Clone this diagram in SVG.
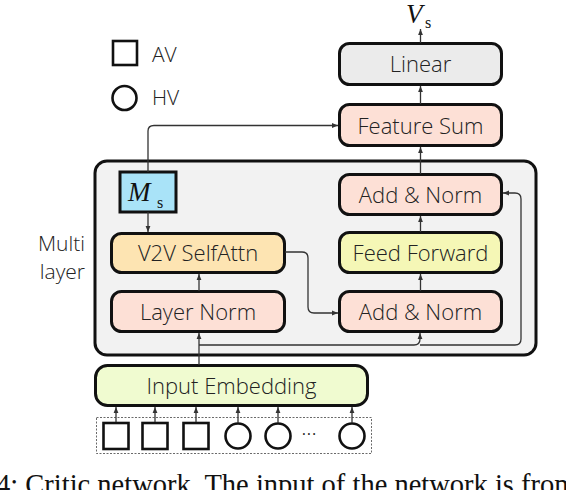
<svg xmlns="http://www.w3.org/2000/svg" width="566" height="490" viewBox="0 0 566 490">
<style>
.box{stroke:#111;stroke-width:3}
.t{font-family:"Open Sans","Noto Sans",sans-serif;font-size:22px;fill:#222;text-anchor:middle;font-weight:300}
.lbl{font-family:"Open Sans","Noto Sans",sans-serif;font-size:21px;fill:#222;font-weight:300}
.math{font-family:"Liberation Serif","DejaVu Serif",serif;fill:#111}
.c{fill:none;stroke:#333;stroke-width:1.3}
.sym{fill:#fff;stroke:#111;stroke-width:2.6}
</style>
<defs>
<marker id="ah" viewBox="0 0 10 10" refX="10" refY="5" markerWidth="6" markerHeight="6" orient="auto" markerUnits="userSpaceOnUse">
<path d="M0,1 L10,5 L0,9 z" fill="#333"/>
</marker>
</defs>
<rect width="566" height="490" fill="#fff"/>

<g id="legend">
<rect x="113" y="41" width="24" height="24" class="sym"/>
<text x="152" y="62" class="lbl">AV</text>
<circle cx="124.5" cy="98" r="12" class="sym"/>
<text x="152" y="105" class="lbl">HV</text>
</g>

<g id="multilayer-label">
<text x="85" y="251" class="lbl" text-anchor="end">Multi</text>
<text x="85" y="279" class="lbl" text-anchor="end">layer</text>
</g>

<g id="container">
<rect x="95" y="161" width="441" height="194" rx="12" fill="#f2f2f2" stroke="#111" stroke-width="3"/>
</g>

<g id="vs">
<text x="406" y="23" class="math" font-size="27" font-style="italic">V</text>
<text x="425" y="28" class="math" font-size="16">s</text>
</g>

<g id="linear">
<rect x="339.5" y="43.5" width="162" height="41" rx="10" fill="#ebebeb" class="box"/>
<text x="420.5" y="72" class="t">Linear</text>
</g>

<g id="feature-sum">
<rect x="339.5" y="104.5" width="162" height="41" rx="10" fill="#fde0d6" class="box"/>
<text x="420.5" y="133.5" class="t">Feature Sum</text>
</g>

<g id="add-norm-top">
<rect x="339.5" y="174.5" width="162" height="40" rx="10" fill="#fde0d6" class="box"/>
<text x="420.5" y="202.5" class="t">Add &amp; Norm</text>
</g>

<g id="feed-forward">
<rect x="339.5" y="232.5" width="162" height="40" rx="10" fill="#f5f7b6" class="box"/>
<text x="420.5" y="260.5" class="t">Feed Forward</text>
</g>

<g id="add-norm-bottom">
<rect x="339.5" y="291.5" width="162" height="40" rx="10" fill="#fde0d6" class="box"/>
<text x="420.5" y="319.5" class="t">Add &amp; Norm</text>
</g>

<g id="ms">
<rect x="120" y="172" width="56" height="40" fill="#a9e3f8" class="box"/>
<text x="128" y="201" class="math" font-size="27" font-style="italic">M</text>
<text x="157" y="208" class="math" font-size="16">s</text>
</g>

<g id="v2v-selfattn">
<rect x="111.5" y="233.5" width="173" height="39" rx="10" fill="#fde4b2" class="box"/>
<text x="198" y="261" class="t">V2V SelfAttn</text>
</g>

<g id="layer-norm">
<rect x="111.5" y="291.5" width="173" height="40" rx="10" fill="#fde0d6" class="box"/>
<text x="198" y="320" class="t">Layer Norm</text>
</g>

<g id="input-embedding">
<rect x="95.5" y="365.5" width="272" height="40" rx="12" fill="#f0fbd0" class="box"/>
<text x="231.5" y="393.5" class="t">Input Embedding</text>
</g>

<g id="inputs">
<rect x="96.5" y="417.5" width="275" height="36" fill="none" stroke="#444" stroke-width="0.8" stroke-dasharray="2,1.5"/>
<rect x="103.5" y="423" width="25" height="26" class="sym"/>
<rect x="142.5" y="423" width="25" height="26" class="sym"/>
<rect x="183.5" y="423" width="25" height="26" class="sym"/>
<circle cx="238" cy="436" r="12.5" class="sym"/>
<circle cx="278" cy="436" r="12.5" class="sym"/>
<text x="309" y="441" class="t" font-size="18">···</text>
<circle cx="352" cy="436" r="12.5" class="sym"/>
</g>

<g id="connectors">
<line x1="116" y1="422" x2="116" y2="407" class="c" marker-end="url(#ah)"/>
<line x1="155" y1="422" x2="155" y2="407" class="c" marker-end="url(#ah)"/>
<line x1="196" y1="422" x2="196" y2="407" class="c" marker-end="url(#ah)"/>
<line x1="238" y1="423" x2="238" y2="407" class="c" marker-end="url(#ah)"/>
<line x1="278" y1="423" x2="278" y2="407" class="c" marker-end="url(#ah)"/>
<line x1="352" y1="423" x2="352" y2="407" class="c" marker-end="url(#ah)"/>
<line x1="199" y1="365" x2="199" y2="333" class="c" marker-end="url(#ah)"/>
<path d="M199,345 H414 Q420,345 420,339 V333" class="c" marker-end="url(#ah)"/>
<path d="M420,345 H515 Q521,345 521,339 V199 Q521,193 515,193 H503" class="c" marker-end="url(#ah)"/>
<line x1="199" y1="291" x2="199" y2="274" class="c" marker-end="url(#ah)"/>
<path d="M285,252 H302 Q308,252 308,258 V307 Q308,313 314,313 H338" class="c" marker-end="url(#ah)"/>
<line x1="420.5" y1="291" x2="420.5" y2="274" class="c" marker-end="url(#ah)"/>
<line x1="420.5" y1="232" x2="420.5" y2="216" class="c" marker-end="url(#ah)"/>
<line x1="420.5" y1="174" x2="420.5" y2="147" class="c" marker-end="url(#ah)"/>
<line x1="420.5" y1="104" x2="420.5" y2="86" class="c" marker-end="url(#ah)"/>
<line x1="420.5" y1="43" x2="420.5" y2="29" class="c" marker-end="url(#ah)"/>
<path d="M148,172 V131 Q148,125.5 154,125.5 H338" class="c" marker-end="url(#ah)"/>
<line x1="148" y1="212" x2="148" y2="232" class="c" marker-end="url(#ah)"/>
</g>

<g id="caption">
<text x="-4" y="494" class="math" font-size="28.5">4: Critic network. The input of the network is from</text>
</g>
</svg>
